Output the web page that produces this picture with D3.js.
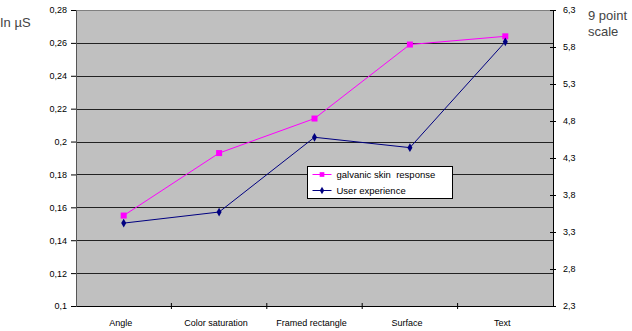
<!DOCTYPE html>
<html>
<head>
<meta charset="utf-8">
<script src="https://cdn.jsdelivr.net/npm/d3@7"></script>
<style>
  body { margin: 0; background: #fff; }
  svg { display: block; font-family: "Liberation Sans", Arial, sans-serif; }
</style>
</head>
<body>
<div id="chart"></div>
<script>
// data
const categories = ["Angle", "Color saturation", "Framed rectangle", "Surface", "Text"];
const gsrValues = [0.155, 0.193, 0.214, 0.259, 0.264];      // left axis, in µS
const userValues = [3.42, 3.57, 4.58, 4.44, 5.87];           // right axis, 9 point scale
const leftTicks = [0.1, 0.12, 0.14, 0.16, 0.18, 0.2, 0.22, 0.24, 0.26, 0.28];
const rightTicks = [2.3, 2.8, 3.3, 3.8, 4.3, 4.8, 5.3, 5.8, 6.3];

const width = 632, height = 331;
const plotLeft = 76, plotRight = 553, plotTop = 10, plotBottom = 306;

const svg = d3.select("#chart").append("svg")
  .attr("width", width)
  .attr("height", height);

const x = d3.scaleBand().domain(categories).range([plotLeft, plotRight]);
const yL = d3.scaleLinear().domain([0.1, 0.28]).range([plotBottom, plotTop]);
const yR = d3.scaleLinear().domain([2.3, 6.3]).range([plotBottom, plotTop]);

const comma = d => d3.format("~g")(+d.toFixed(2)).replace(".", ",");

// plot background
svg.append("rect")
  .attr("x", plotLeft).attr("y", plotTop)
  .attr("width", plotRight - plotLeft).attr("height", plotBottom - plotTop)
  .attr("fill", "#c0c0c0");

// gridlines
svg.append("g").selectAll("line")
  .data(leftTicks.slice(1, -1))
  .enter().append("line")
  .attr("x1", plotLeft).attr("x2", plotRight)
  .attr("y1", d => Math.round(yL(d)) + 0.5).attr("y2", d => Math.round(yL(d)) + 0.5)
  .attr("stroke", "#222")
  .attr("stroke-width", 1.2);

// top border
svg.append("line")
  .attr("x1", plotLeft).attr("x2", plotRight)
  .attr("y1", plotTop + 0.5).attr("y2", plotTop + 0.5)
  .attr("stroke", "#808080");

// left axis
const axL = svg.append("g")
  .attr("transform", `translate(${plotLeft},0)`)
  .call(d3.axisLeft(yL).tickValues(leftTicks).tickFormat(comma).tickSize(5).tickPadding(4));
axL.select(".domain").attr("stroke", "#555");

// right axis, ticks cross the line
const axR = svg.append("g")
  .attr("transform", `translate(${plotRight},0)`)
  .call(d3.axisRight(yR).tickValues(rightTicks).tickFormat(comma).tickSize(3).tickPadding(7));
axR.selectAll(".tick line").attr("x1", -3);
axR.select(".domain").attr("stroke", "#000");

// bottom axis, ticks at band edges
const axB = svg.append("g")
  .attr("transform", `translate(0,${plotBottom})`)
  .call(d3.axisBottom(x).tickSize(0).tickPadding(14));
axB.select(".domain").attr("stroke", "#000");
axB.selectAll(".tick text").attr("dx", -3);
axB.append("g").selectAll("line")
  .data(categories.slice(1))
  .enter().append("line")
  .attr("x1", d => x(d)).attr("x2", d => x(d))
  .attr("y1", -3).attr("y2", 3)
  .attr("stroke", "#000");

svg.selectAll(".tick text")
  .attr("fill", "#000")
  .style("font-size", "9px");

// series lines
const cx = d => x(d) + x.bandwidth() / 2;

const gsrLine = d3.line().x((d, i) => cx(categories[i])).y(d => yL(d));
const userLine = d3.line().x((d, i) => cx(categories[i])).y(d => yR(d));

svg.append("path")
  .attr("d", gsrLine(gsrValues))
  .attr("fill", "none")
  .attr("stroke", "#ff00ff")
  .attr("stroke-width", 1);

svg.append("path")
  .attr("d", userLine(userValues))
  .attr("fill", "none")
  .attr("stroke", "#000080")
  .attr("stroke-width", 1);

svg.append("g").selectAll("rect")
  .data(gsrValues)
  .enter().append("rect")
  .attr("x", (d, i) => cx(categories[i]) - 3)
  .attr("y", d => yL(d) - 3)
  .attr("width", 6).attr("height", 6)
  .attr("fill", "#ff00ff");

svg.append("g").selectAll("path")
  .data(userValues)
  .enter().append("path")
  .attr("d", d3.symbol().type(d3.symbolDiamond).size(22))
  .attr("transform", (d, i) => `translate(${cx(categories[i])},${yR(d)})`)
  .attr("fill", "#000080");

// legend
const legend = svg.append("g").attr("transform", "translate(307.5,166.5)");
legend.append("rect")
  .attr("width", 145).attr("height", 32)
  .attr("fill", "#fff")
  .attr("stroke", "#000");

const legendItems = [
  { label: "galvanic skin  response", color: "#ff00ff", marker: "square" },
  { label: "User experience", color: "#000080", marker: "diamond" }
];
const li = legend.selectAll(".item")
  .data(legendItems)
  .enter().append("g")
  .attr("transform", (d, i) => `translate(0,${8 + i * 16})`);
li.append("line")
  .attr("x1", 5).attr("x2", 24)
  .attr("stroke", d => d.color);
li.append("path")
  .attr("d", d => d3.symbol().type(d.marker === "square" ? d3.symbolSquare : d3.symbolDiamond).size(d.marker === "square" ? 22 : 16)())
  .attr("transform", "translate(14.5,0)")
  .attr("fill", d => d.color);
li.append("text")
  .attr("x", 29).attr("y", 3.5)
  .style("font-size", "9.5px")
  .style("white-space", "pre")
  .text(d => d.label);

// axis titles
svg.append("text")
  .attr("x", 0).attr("y", 27)
  .attr("fill", "#444")
  .style("font-size", "13px")
  .text("In µS");

svg.append("text")
  .attr("x", 588).attr("y", 20)
  .attr("fill", "#444")
  .style("font-size", "13px")
  .text("9 point");
svg.append("text")
  .attr("x", 588).attr("y", 36)
  .attr("fill", "#444")
  .style("font-size", "13px")
  .text("scale");
</script>
</body>
</html>
